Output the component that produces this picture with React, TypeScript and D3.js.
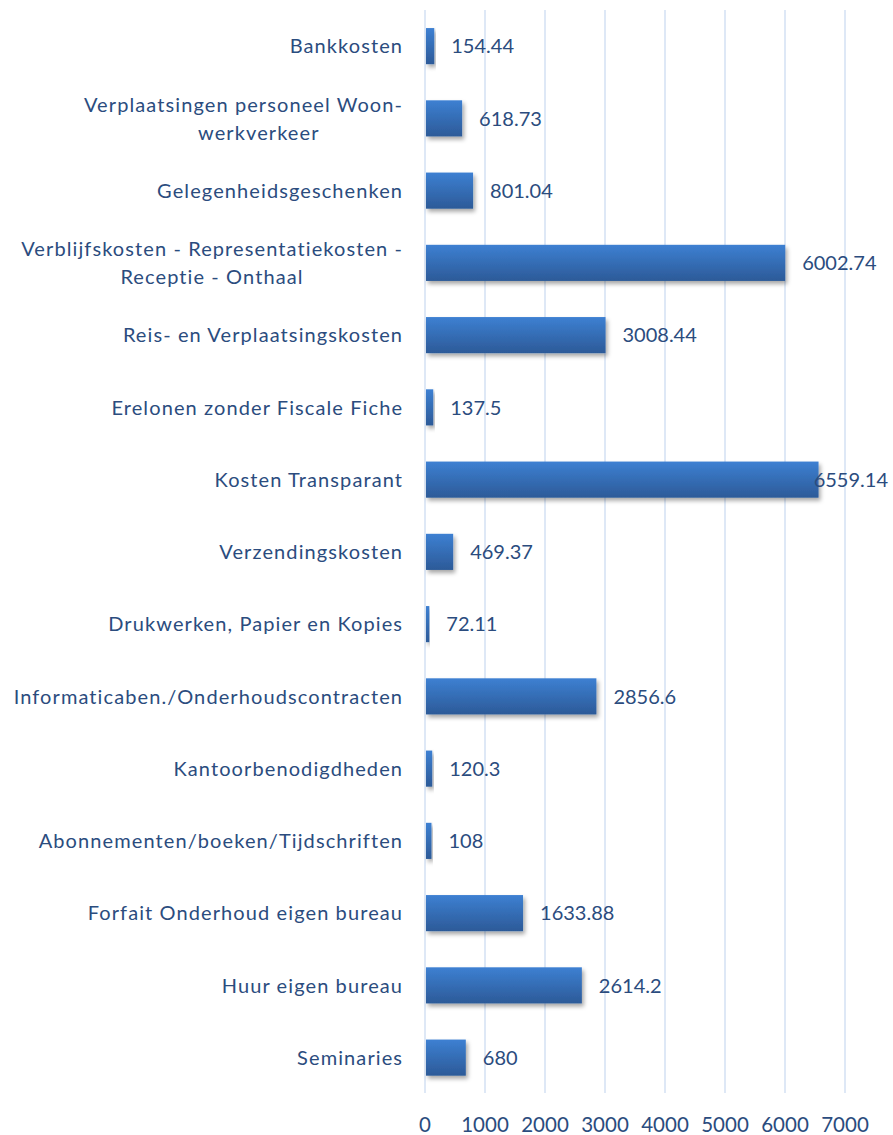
import React from "react";
import * as d3 from "d3";

const categoryLines: string[][] = [
  ["Bankkosten"],
  ["Verplaatsingen personeel Woon-", "werkverkeer"],
  ["Gelegenheidsgeschenken"],
  ["Verblijfskosten - Representatiekosten -", "Receptie - Onthaal"],
  ["Reis- en Verplaatsingskosten"],
  ["Erelonen zonder Fiscale Fiche"],
  ["Kosten Transparant"],
  ["Verzendingskosten"],
  ["Drukwerken, Papier en Kopies"],
  ["Informaticaben./Onderhoudscontracten"],
  ["Kantoorbenodigdheden"],
  ["Abonnementen/boeken/Tijdschriften"],
  ["Forfait Onderhoud eigen bureau"],
  ["Huur eigen bureau"],
  ["Seminaries"],
];
const values: number[] = [
  154.44, 618.73, 801.04, 6002.74, 3008.44, 137.5, 6559.14, 469.37, 72.11,
  2856.6, 120.3, 108, 1633.88, 2614.2, 680,
];
const tickValues: number[] = [0, 1000, 2000, 3000, 4000, 5000, 6000, 7000];

const W = 893;
const H = 1135;
const FONT = "Lato, 'Open Sans', sans-serif";
const TEXT = "#2b4c7e";
const CAT_SIZE = 20;
const CAT_LS = 1.1;

function measure(s: string, size: number, ls: number): number {
  const c = document.createElement("canvas").getContext("2d");
  if (!c) return s.length * 10.5;
  c.font = `${size}px Lato`;
  return c.measureText(s).width + ls * s.length;
}

export default function App() {
  const keys = categoryLines.map((_, i) => String(i));
  const x = d3.scaleLinear().domain([0, 7000]).range([425, 845]);
  const y = d3.scaleBand<string>().domain(keys).range([10, 1093.75]).paddingInner(0.5).paddingOuter(0.25);
  const bw = y.bandwidth();
  const labelRight = 402 + CAT_LS;
  const valueRightLimit = 888;
  const charW = 10.9;

  return (
    <svg
      width={W}
      height={H}
      style={{ position: "absolute", left: 0, top: 0, display: "block", background: "#fff" }}
      fontFamily={FONT}
    >
      <defs>
        <linearGradient id="barGrad" x1="0" y1="0" x2="0" y2="1">
          <stop offset="0" stopColor="#3d80d2" />
          <stop offset="1" stopColor="#2c5a98" />
        </linearGradient>
        <filter id="shadow" x="-10%" y="-30%" width="130%" height="180%">
          <feDropShadow dx="2" dy="3" stdDeviation="2.2" floodColor="#000" floodOpacity="0.35" />
        </filter>
      </defs>
      {tickValues.map((t) => (
        <line key={"g" + t} x1={x(t)} x2={x(t)} y1={10} y2={1093} stroke="#d6e3f4" strokeWidth={1.6} />
      ))}
      {values.map((v, i) => (
        <rect
          key={"b" + i}
          x={x(0) + 1}
          y={y(String(i))!}
          width={Math.max(0, x(v) - x(0) - 1)}
          height={bw}
          fill="url(#barGrad)"
          filter="url(#shadow)"
        />
      ))}
      {values.map((v, i) => {
        const label = String(v);
        const cy = y(String(i))! + bw / 2;
        let lx = x(v) + 17;
        const est = label.length * charW;
        let anchor: "start" | "end" = "start";
        if (lx + est > valueRightLimit) {
          lx = valueRightLimit;
          anchor = "end";
        }
        return (
          <text key={"v" + i} x={lx} y={cy} dy="0.36em" fontSize={20} fill={TEXT} textAnchor={anchor}>
            {label}
          </text>
        );
      })}
      <g fontSize={CAT_SIZE} fill={TEXT} letterSpacing={CAT_LS}>
        {categoryLines.map((lines, i) => {
          const cy = y(String(i))! + bw / 2;
          if (lines.length === 1) {
            return (
              <text key={"c" + i} x={labelRight} y={cy} dy="0.36em" textAnchor="end">
                {lines[0]}
              </text>
            );
          }
          const lh = 28;
          const hyphenBreak = /\S-$/.test(lines[0]);
          const firstW = measure(hyphenBreak ? lines[0] + "-" : lines[0], CAT_SIZE, CAT_LS);
          const center = labelRight - firstW / 2 + (hyphenBreak ? firstW * 0.06 : 0);
          return (
            <g key={"c" + i}>
              <text x={labelRight} y={cy - lh / 2} dy="0.36em" textAnchor="end">
                {lines[0]}
              </text>
              <text x={center} y={cy + lh / 2} dy="0.36em" textAnchor="middle">
                {lines[1]}
              </text>
            </g>
          );
        })}
      </g>
      {tickValues.map((t) => (
        <text key={"t" + t} x={x(t)} y={1132} fontSize={20.5} fill={TEXT} textAnchor="middle">
          {t}
        </text>
      ))}
    </svg>
  );
}
